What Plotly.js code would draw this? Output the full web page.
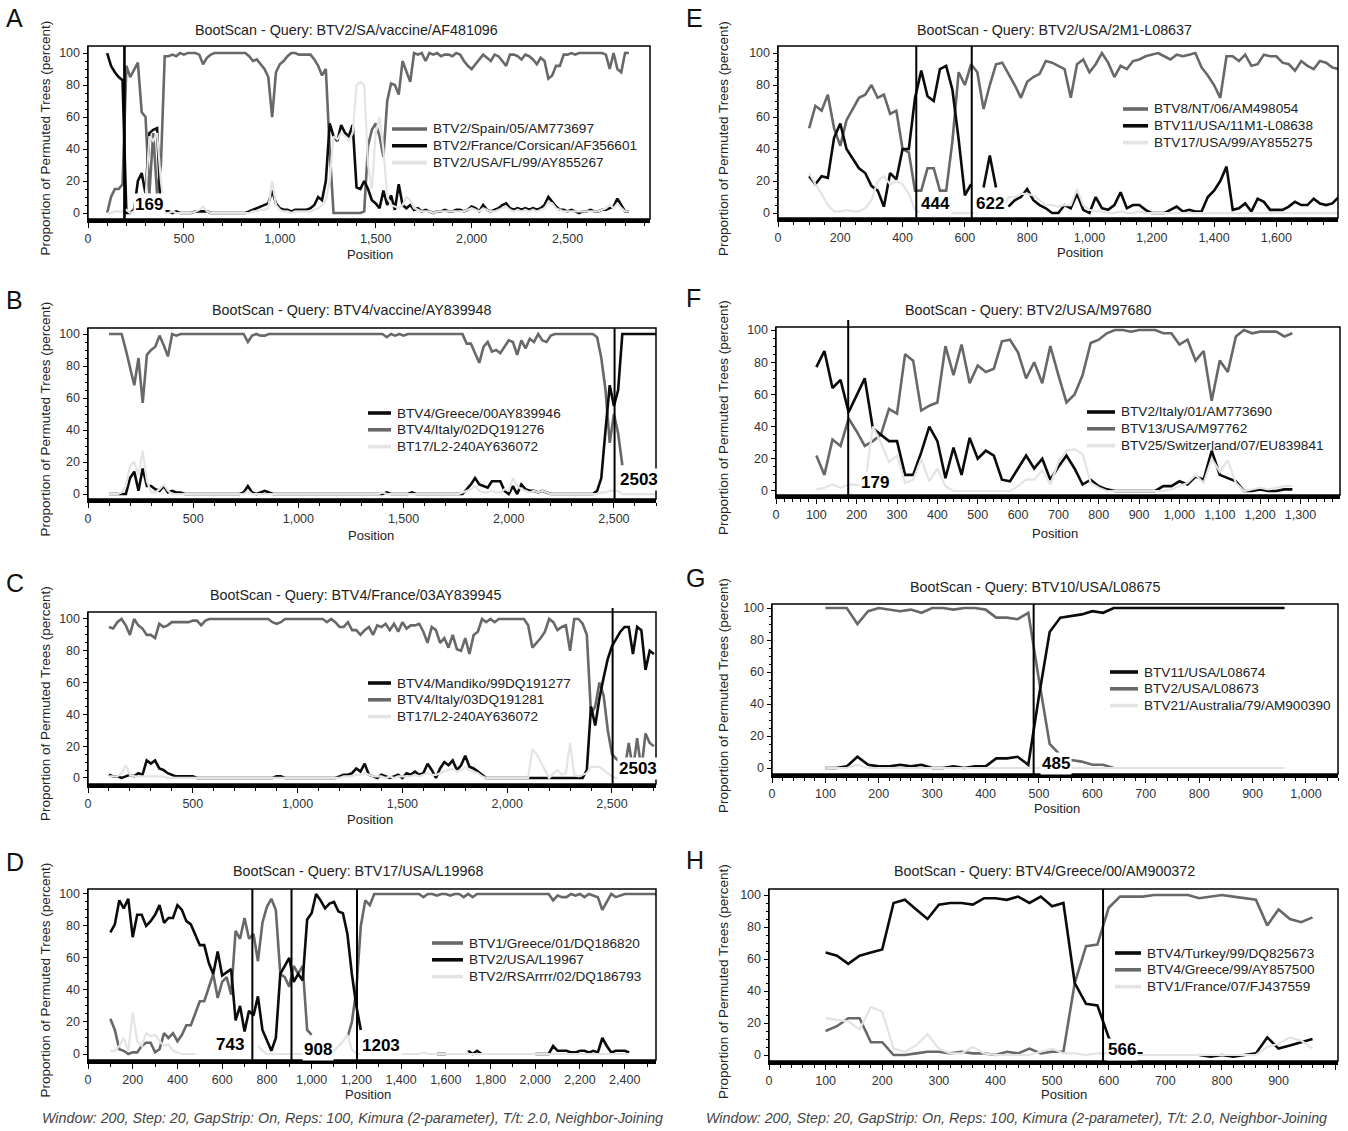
<!DOCTYPE html>
<html><head><meta charset="utf-8">
<script src="https://cdn.plot.ly/plotly-3.0.1.min.js"></script>
<style>html,body{margin:0;padding:0;background:#fff}#chart{width:1348px;height:1131px}</style>
</head><body><div id="chart"></div>
<script>
// Bootscan sampling grid: first window midpoint and step (positions)
const FIRST_POS = 100, STEP = 20;

// ---------- Panel A ----------
const A_names = ['BTV2/Spain/05/AM773697','BTV2/France/Corsican/AF356601','BTV2/USA/FL/99/AY855267'];
const A_grey = [0,10,15,15,18,92,85,90,94,63, 60,12,50,12,30,98,98,99,98,100, 99,100,100,100,99,93,97,99,100,100,
 100,100,100,100,100,100,100,98,95,96, 93,90,85,60,88,93,95,98,100,100, 99,99,99,99,96,92,86,90,40,0,
 0,0,0,0,0,0,0,1,42,52, 56,48,35,70,81,80,74,95,88,82, 100,99,100,95,100,99,100,98,99,99,
 98,100,99,95,92,90,93,96,99,97, 95,99,98,95,92,99,99,98,96,99, 98,96,93,97,95,84,86,92,92,99,
 99,100,99,100,100,100,100,100,100,100, 99,90,100,90,88,100,100];
const A_black = [100,92,88,85,83,0,0,2,20,25, 12,50,52,53,2,1,1,0,1,0, 0,0,0,1,1,1,1,0,0,0,
 0,0,0,0,0,0,0,1,2,3, 4,5,6,14,6,3,2,2,1,2, 2,2,2,3,5,10,8,20,56,48,
 45,55,50,48,55,16,15,20,15,8, 6,3,14,5,11,2,18,5,3,5, 2,3,1,2,1,0,1,1,2,1,
 1,2,2,1,2,4,3,1,5,2, 1,2,3,5,6,3,2,3,2,3, 2,3,2,3,5,10,7,4,2,2,
 1,2,1,0,1,1,2,1,1,2, 2,3,4,9,5,1,1];
const A_light = [0,0,1,1,1,2,0,1,2,5, 10,48,45,50,20,0,0,1,0,0, 0,0,0,1,2,4,1,0,0,0,
 0,0,0,0,0,0,0,0,1,1, 2,2,3,20,5,2,1,1,0,1, 1,1,1,1,2,3,5,8,20,48,
 46,50,48,45,50,80,82,80,30,15, 50,60,40,10,5,4,3,5,10,8, 3,2,1,1,1,0,1,1,1,1,
 1,1,1,1,2,3,2,1,3,2, 1,1,2,3,4,2,1,2,1,2, 1,2,1,2,3,7,6,3,2,1,
 1,1,1,1,1,1,1,1,1,2, 3,5,3,6,3,1,1];
const A_breaks = [190], A_breakLabels = ['169'];

// ---------- Panel B ----------
const B_names = ['BTV4/Greece/00AY839946','BTV4/Italy/02DQ191276','BT17/L2-240AY636072'];
const B_black = [0,0,0,0,0,10,14,2,16,5, 5,3,2,5,1,2,1,1,0,0, 0,0,0,0,0,0,0,0,0,0,
 0,0,1,5,1,0,1,2,1,0, 0,0,0,0,0,0,0,0,0,0, 0,0,0,0,0,0,0,0,0,0,
 0,0,0,0,0,0,1,0,0,0, 0,0,1,0,0,0,0,0,0,0, 0,0,0,0,0,3,6,10,6,5,
 4,8,8,8,2,0,5,0,6,3, 2,2,1,2,1,0,0,0,0,0, 0,0,0,0,0,0,2,10,40,68,
 55,65,100,100,100,100,100,100,100,100, 100];
const B_grey = [100,100,100,100,90,78,68,85,57,87, 90,92,99,93,86,100,99,100,100,100, 100,100,100,100,100,100,100,100,100,100,
 100,100,100,95,99,100,99,99,100,100, 100,100,100,100,100,100,100,100,100,100, 100,100,100,100,100,100,100,100,100,100,
 100,100,100,100,100,100,98,100,99,100, 99,100,100,100,100,100,100,100,100,100, 100,100,100,100,100,94,94,88,82,92,
 95,89,90,88,92,96,95,87,96,91, 97,95,100,96,95,99,100,100,100,100, 100,100,100,100,100,100,98,85,65,32,
 50,38,18];
const B_light = [0,0,0,1,5,18,20,12,27,8, 1,1,3,6,2,0,0,0,0,0, 0,0,0,0,0,0,0,0,0,0,
 0,0,0,2,0,0,0,0,0,0, 0,0,0,0,0,0,0,0,0,0, 0,0,0,0,0,0,0,0,0,0,
 0,0,0,0,0,1,0,0,0,0, 0,0,0,0,0,0,0,0,0,0, 0,0,0,0,1,2,3,5,2,1,
 1,2,1,1,3,2,10,5,3,2, 1,2,1,2,1,0,0,0,0,0, 0,0,0,0,0,0,0,1,1,2,
 2,2,0,0,0,0,0,0,0,0, 0];
const B_breaks = [2503], B_breakLabels = ['2503'];

// ---------- Panel C ----------
const C_names = ['BTV4/Mandiko/99DQ191277','BTV4/Italy/03DQ191281','BT17/L2-240AY636072'];
const C_black = [2,1,1,0,1,2,1,3,2,11, 9,11,6,5,3,2,1,1,1,1, 1,0,0,0,0,0,0,0,0,0,
 0,0,0,0,0,0,0,0,0,0, 1,1,0,0,0,0,0,0,0,0, 0,0,0,0,0,1,2,2,3,6,
 4,9,2,1,0,2,1,0,1,2, 0,3,2,4,2,3,9,5,0,6, 10,8,11,5,8,14,7,6,4,2,
 0,0,0,0,0,0,0,0,0,0, 0,0,0,0,0,0,0,0,0,0, 0,0,0,0,5,45,33,50,63,75,
 83,88,92,95,95,78,95,93,68,80, 78];
const C_grey = [95,94,98,100,96,90,100,96,94,90, 90,88,97,95,96,98,98,98,98,98, 99,99,96,99,100,100,100,100,100,100,
 100,100,100,100,100,100,100,100,100,98, 97,98,100,100,100,100,100,100,100,100, 100,100,98,100,98,95,95,98,93,93,
 90,93,95,90,96,95,97,93,97,92, 98,94,96,96,97,92,85,95,93,85, 88,82,90,81,80,88,78,90,92,100,
 98,100,98,100,100,100,100,100,100,100, 96,82,85,88,92,100,98,93,95,96, 80,100,100,97,90,40,45,60,52,30,
 15,12,10,5,22,5,25,5,28,22, 20];
const C_light = [1,1,1,3,8,2,1,1,1,1, 1,1,1,1,0,0,0,0,0,0, 0,0,0,0,0,0,0,0,0,0,
 0,0,0,0,0,0,0,0,0,0, 0,0,0,0,0,0,0,0,0,0, 0,0,0,0,0,0,1,1,1,2,
 2,3,2,1,1,1,0,1,0,1, 1,1,1,2,1,2,3,2,2,3, 4,5,6,4,5,7,5,4,3,1,
 0,0,0,0,0,0,0,0,0,0, 0,18,15,10,5,0,3,5,2,3, 22,2,1,2,3,7,7,7,5,3,
 1,0,0,0,0,0,0,0,0,0, 0];
const C_breaks = [2503], C_breakLabels = ['2503'];

// ---------- Panel D ----------
const D_names = ['BTV1/Greece/01/DQ186820','BTV2/USA/L19967','BTV2/RSArrrr/02/DQ186793'];
const D_grey = [22,15,3,2,0,1,1,5,7,7, 1,3,13,10,13,8,12,18,18,25, 33,33,42,50,35,45,48,37,77,72,
 85,72,75,58,82,92,97,90,50,48, 42,55,50,55,15,12,null,null,null,null, null,null,null,10,20,40,80,96,93,100,
 100,100,100,100,100,100,100,100,100,100, 98,100,100,99,100,100,99,100,100,98, 100,98,100,100,100,100,100,100,100,100,
 100,100,100,100,100,100,100,100,100,96, 99,98,98,100,99,100,98,100,99,98, 90,95,100,98,99,100,100,100,100,100,
 100,100,100];
const D_black = [76,81,96,91,97,73,87,87,80,83, 87,93,82,85,85,93,90,83,81,74, 68,68,57,50,64,49,51,53,21,30,
 14,27,24,36,15,8,2,10,50,55, 60,45,50,46,84,88,100,96,91,94, 95,89,88,75,50,30,15,null,null,null,
 null,null,null,null,null,null,null,null,null,null, null,null,null,0,0,0,null,null,null,null, 2,0,2,0,null,null,null,null,null,null,
 null,null,null,null,null,0,0,0,0,5, 2,2,2,1,1,2,2,1,2,1, 10,5,1,2,2,2,1];
const D_light = [2,2,5,10,2,26,8,5,13,11, 12,8,5,6,2,1,0,0,0,0, null,null,null,null,null,null,null,null,null,null,
 null,null,null,5,2,0,0,0,0,0, 0,0,0,0,1,1,0,0,0,0, 2,5,8,12,3,0,0,0,0,0,
 0,0,0,0,0,0,0,0,0,0, 1,0,0,0,0,0,0,0,0,0, 0,0,0,0,0,0,0,0,0,0,
 0,0,0,0,0,0,0,0,0,0, 0,0,0,0,0,0,0,0,0,0, 0,0,0,0,0,0,0];
const D_breaks = [735, 910, 1203], D_breakLabels = ['743','908','1203'];

// ---------- Panel E ----------
const E_names = ['BTV8/NT/06/AM498054','BTV11/USA/11M1-L08638','BTV17/USA/99/AY855275'];
const E_grey = [53,67,64,74,53,42,58,65,72,74, 80,72,74,62,64,40,38,14,14,28, 28,14,14,45,88,80,93,88,65,80,
 93,94,87,80,72,82,85,87,95,94, 92,90,72,93,96,88,93,100,94,85, 92,90,95,96,98,99,100,98,96,99,
 98,99,100,91,86,80,72,98,98,95, 99,92,93,99,98,98,94,93,89,95, 92,90,95,94,91,90];
const E_black = [23,18,23,22,47,56,40,34,28,25, 17,14,4,25,21,40,40,72,89,73, 70,90,92,77,46,11,18,null,16,36,
 16,null,4,8,10,15,8,5,3,0, 0,5,3,12,2,0,10,3,2,5, 13,3,5,5,2,0,0,0,2,4,
 1,2,1,1,10,14,20,29,2,3, 6,1,9,7,2,2,2,4,7,5, 5,9,6,5,6,10];
const E_light = [25,18,12,5,1,1,2,1,1,3, 8,20,23,18,20,18,12,2,0,0, 0,0,0,0,0,0,0,0,0,0,
 0,2,10,10,12,12,11,8,5,5, 4,5,5,15,5,2,1,1,0,0, 1,0,0,1,0,0,0,0,0,0,
 0,0,0,0,0,0,0,0,0,0, 0,0,0,0,0,0,0,0,0,0, 0,0,0,0,0,0];
const E_breaks = [444, 622], E_breakLabels = ['444','622'];

// ---------- Panel F ----------
const F_names = ['BTV2/Italy/01/AM773690','BTV13/USA/M97762','BTV25/Switzerland/07/EU839841'];
const F_black = [77,87,64,69,49,60,70,39,35,31, 31,10,10,24,40,31,8,27,10,33, 20,25,22,7,6,14,22,14,20,7,
 15,22,14,4,7,3,1,0,0,0, 0,0,0,3,3,6,4,9,7,25, 10,8,6,0,0,1,0,0,1,1];
const F_grey = [22,10,32,28,45,37,28,31,35,51, 48,85,81,50,53,55,90,72,91,67, 78,74,76,93,94,86,70,80,67,90,
 72,55,60,72,92,94,98,100,100,99, 100,100,100,98,98,91,94,81,87,56, 81,74,96,100,98,99,99,99,96,98];
const F_light = [1,2,4,2,4,4,3,40,30,18, 22,5,7,20,6,14,3,0,0,0, 0,0,0,0,0,3,7,7,13,4,
 18,25,26,23,5,2,0,0,0,0, 0,0,0,0,1,3,5,10,5,20, 12,19,5,0,1,2,1,2,3,3];
const F_breaks = [179], F_breakLabels = ['179'];

// ---------- Panel G ----------
const G_names = ['BTV11/USA/L08674','BTV2/USA/L08673','BTV21/Australia/79/AM900390'];
const G_black = [0,0,1,7,2,1,1,2,1,2, 0,0,1,0,1,1,6,6,7,2, 45,85,94,95,96,98,97,100,100,100,
 100,100,100,100,100,100,100,100,100,100, 100,100,100,100];
const G_grey = [100,100,100,90,98,100,99,98,99,97, 100,100,99,100,100,99,94,94,93,97, 55,15,8,5,4,2,2,0];
const G_light = [0,0,0,2,0,0,0,0,0,0, 0,0,0,0,0,0,0,0,0,0, 0,0,0,0,0,0,0,0,0,0,
 0,0,0,0,0,0,0,0,0,0, 0,0,0,0];
const G_breaks = [490], G_breakLabels = ['485'];

// ---------- Panel H ----------
const H_names = ['BTV4/Turkey/99/DQ825673','BTV4/Greece/99/AY857500','BTV1/France/07/FJ437559'];
const H_black = [64,62,57,62,64,66,95,97,91,85, 94,95,95,94,98,98,97,99,95,99, 93,95,45,32,31,11,1,1,1,null,
 null,null,null,0,-1,0,-1,0,1,11, 4,6,8,10];
const H_grey = [15,18,23,23,8,8,0,0,1,2, 2,1,2,1,1,0,2,1,4,1, 2,2,45,68,69,92,99,99,99,100,
 100,100,100,98,99,100,99,98,97,81, 91,85,83,86];
const H_light = [23,22,21,16,30,27,4,2,6,13, 4,1,1,5,1,0,0,0,0,2, 4,1,1,0,1,1,0,0,0,0,
 0,0,0,0,0,0,0,0,0,5, 7,11,9,4];
const H_breaks = [590], H_breakLabels = ['566'];

const TITLES = ['BootScan - Query: BTV2/SA/vaccine/AF481096','BootScan - Query: BTV4/vaccine/AY839948',
 'BootScan - Query: BTV4/France/03AY839945','BootScan - Query: BTV17/USA/L19968',
 'BootScan - Query: BTV2/USA/2M1-L08637','BootScan - Query: BTV2/USA/M97680',
 'BootScan - Query: BTV10/USA/L08675','BootScan - Query: BTV4/Greece/00/AM900372'];
const FOOTER = 'Window: 200, Step: 20, GapStrip: On, Reps: 100, Kimura (2-parameter), T/t: 2.0, Neighbor-Joining';

// ---------- styling / layout config (pixels) ----------
const W = 1348, H = 1131;
const COL = {grey:'#686868', black:'#0b0b0b', light:'#e4e4e4'};
const FONT = 'Liberation Sans, Arial, sans-serif';
const panels = [
 {L:'A', names:A_names, series:[['grey',A_grey],['black',A_black],['light',A_light]], br:A_breaks, bl:A_breakLabels,
  frame:[88,46,650,219], yr:[-3.75,104.4], xr:[0,2930], dt:500, mdt:100, leg:[431,129,35], tx:346, ty:30, letter:[4,18], px:370, py:254,
  lab:[[317,5]], ext:0},
 {L:'B', names:B_names, series:[['black',B_black],['grey',B_grey],['light',B_light]], br:B_breaks, bl:B_breakLabels,
  frame:[88,328,656,499], yr:[-3.1,103.75], xr:[0,2700], dt:500, mdt:100, leg:[395,413,23], tx:352, ty:310, letter:[4,300], px:371, py:535,
  lab:[[2620,9]], ext:0},
 {L:'C', names:C_names, series:[['black',C_black],['grey',C_grey],['light',C_light]], br:C_breaks, bl:C_breakLabels,
  frame:[88,612,656,784], yr:[-3.8,104.4], xr:[0,2710], dt:500, mdt:100, leg:[395,683,23], tx:355, ty:595, letter:[4,583], px:370, py:819,
  lab:[[2625,6]], ext:4},
 {L:'D', names:D_names, series:[['grey',D_grey],['black',D_black],['light',D_light]], br:D_breaks, bl:D_breakLabels,
  frame:[88,889,656,1060], yr:[-3.75,103.1], xr:[0,2540], dt:200, mdt:100, leg:[467,943,31], tx:358, ty:871, letter:[4,862], px:368, py:1094,
  lab:[[635,6],[1030,3],[1310,5.5]], ext:0},
 {L:'E', names:E_names, series:[['grey',E_grey],['black',E_black],['light',E_light]], br:E_breaks, bl:E_breakLabels,
  frame:[778,46,1338,218], yr:[-3.1,104.4], xr:[0,1798], dt:200, mdt:50, leg:[1152,109,25], tx:1054, ty:30, letter:[684,18], px:1080, py:253,
  lab:[[505,6],[680,6]], ext:0},
 {L:'F', names:F_names, series:[['black',F_black],['grey',F_grey],['light',F_light]], br:F_breaks, bl:F_breakLabels,
  frame:[776,327,1340,495], yr:[-2.5,101.9], xr:[0,1398], dt:100, mdt:20, leg:[1119,412,28], tx:1028, ty:310, letter:[684,298], px:1055, py:533,
  lab:[[245,5]], ext:7},
 {L:'G', names:G_names, series:[['black',G_black],['grey',G_grey],['light',G_light]], br:G_breaks, bl:G_breakLabels,
  frame:[772,604,1338,774], yr:[-3.75,102.5], xr:[0,1060], dt:100, mdt:20, leg:[1142,672,28], tx:1035, ty:587, letter:[684,578], px:1057, py:808,
  lab:[[531,3]], ext:0},
 {L:'H', names:H_names, series:[['black',H_black],['grey',H_grey],['light',H_light]], br:H_breaks, bl:H_breakLabels,
  frame:[769,889,1338,1061], yr:[-3.75,103.75], xr:[0,1005], dt:100, mdt:20, leg:[1145,953,26], tx:1044, ty:871, letter:[684,860], px:1064, py:1094,
  lab:[[624,3.5]], ext:0}
];
const LEG_ROW = 16.8;

const px2x = p => p / W, px2y = p => 1 - p / H;
const traces = [], shapes = [], annotations = [];
const layout = {width:W, height:H, margin:{l:0,r:0,t:0,b:0}, paper_bgcolor:'#fff', plot_bgcolor:'#fff',
  font:{family:FONT, color:'#222', size:12}, showlegend:false};
const drawOrder = {grey:0, black:1, light:2};

panels.forEach((p, i) => {
  const n = i + 1, xa = 'x' + (n === 1 ? '' : n), ya = 'y' + (n === 1 ? '' : n);
  const sorted = p.series.map((s, k) => ({role:s[0], vals:s[1], name:p.names[k], rank:k}))
    .sort((a, b) => drawOrder[a.role] - drawOrder[b.role]);
  sorted.forEach(s => {
    traces.push({type:'scatter', mode:'lines', xaxis:xa, yaxis:ya,
      name:s.name, x:s.vals.map((_, j) => FIRST_POS + j * STEP), y:s.vals, connectgaps:false,
      line:{color:COL[s.role], width:s.role === 'light' ? 2.2 : 2.6}, hoverinfo:'skip'});
  });
  const [fx0, fy0, fx1, fy1] = p.frame;
  layout['xaxis' + (n === 1 ? '' : n)] = {domain:[px2x(fx0), px2x(fx1)], anchor:ya, range:p.xr, dtick:p.dt, tick0:0,
    tickformat:',d', showgrid:false, zeroline:false, showline:true, linecolor:'#000', linewidth:3.5,
    ticks:'outside', ticklen:5, tickwidth:1, tickcolor:'#000', tickfont:{size:12.5, color:'#333'},
    minor:{dtick:p.mdt, ticks:'outside', ticklen:3, tickwidth:1, tickcolor:'#000'}, fixedrange:true};
  layout['yaxis' + (n === 1 ? '' : n)] = {domain:[px2y(fy1), px2y(fy0)], anchor:xa, range:p.yr, dtick:20, tick0:0,
    showgrid:false, zeroline:false, showline:true, linecolor:'#000', linewidth:1.5,
    ticks:'outside', ticklen:4, tickwidth:1, tickcolor:'#000', tickfont:{size:12.5, color:'#333'},
    minor:{dtick:5, ticks:'outside', ticklen:2, tickwidth:1, tickcolor:'#000'}, fixedrange:true};
  // in-plot legend (sample line + label), in the reference's legend order
  p.series.forEach((s, k) => {
    const yy = px2y(p.leg[1] + k * LEG_ROW);
    shapes.push({type:'line', xref:'paper', yref:'paper', x0:px2x(p.leg[0] - 4 - p.leg[2]), x1:px2x(p.leg[0] - 4),
      y0:yy, y1:yy, line:{color:COL[s[0]], width:3.6}, layer:'above'});
    annotations.push({xref:'paper', yref:'paper', x:px2x(p.leg[0]), y:yy, text:p.names[k], showarrow:false,
      xanchor:'left', yanchor:'middle', font:{size:13.6, color:'#222', family:FONT}});
  });
  // frame
  shapes.push({type:'rect', xref:xa + ' domain', yref:ya + ' domain', x0:0, x1:1, y0:0, y1:1,
    line:{color:'#000', width:1.5}, layer:'above'});
  // breakpoint lines
  const ext = p.ext / (fy1 - fy0);
  p.br.forEach(b => shapes.push({type:'line', xref:xa, yref:ya + ' domain', x0:b, x1:b, y0:0, y1:1 + ext,
    line:{color:'#000', width:i === 0 ? 2.6 : 2}, layer:'above'}));
  // breakpoint labels
  p.bl.forEach((t, k) => annotations.push({xref:xa, yref:ya, x:p.lab[k][0], y:p.lab[k][1], text:'<b>' + t + '</b>',
    showarrow:false, font:{size:17, color:'#000', family:FONT}, bgcolor:'#fff', borderpad:1}));
  // title
  annotations.push({xref:'paper', yref:'paper', x:px2x(p.tx), y:px2y(p.ty), text:TITLES[i], showarrow:false,
    xanchor:'center', yanchor:'middle', font:{size:14.3, color:'#222', family:FONT}});
  // panel letter
  annotations.push({xref:'paper', yref:'paper', x:px2x(p.letter[0]), y:px2y(p.letter[1]), text:p.L, showarrow:false,
    xanchor:'left', yanchor:'middle', font:{size:25, color:'#111', family:FONT}});
  // axis titles
  annotations.push({xref:'paper', yref:'paper', x:px2x(p.px), y:px2y(p.py), text:'Position', showarrow:false,
    xanchor:'center', yanchor:'middle', font:{size:13, color:'#222', family:FONT}});
  annotations.push({xref:'paper', yref:'paper', x:px2x(i < 4 ? 45 : 723), y:px2y((fy0 + fy1) / 2 + 6),
    text:'Proportion of Permuted Trees (percent)', textangle:-90, showarrow:false, xanchor:'center', yanchor:'middle',
    font:{size:13.5, color:'#222', family:FONT}});
});
[352, 1016].forEach(cx => annotations.push({xref:'paper', yref:'paper', x:px2x(cx), y:px2y(1118), text:FOOTER,
  showarrow:false, xanchor:'center', yanchor:'middle', font:{size:14.3, color:'#444', family:FONT, style:'italic'}}));

layout.shapes = shapes;
layout.annotations = annotations;
Plotly.newPlot('chart', traces, layout, {staticPlot:true, displayModeBar:false});
</script></body></html>
